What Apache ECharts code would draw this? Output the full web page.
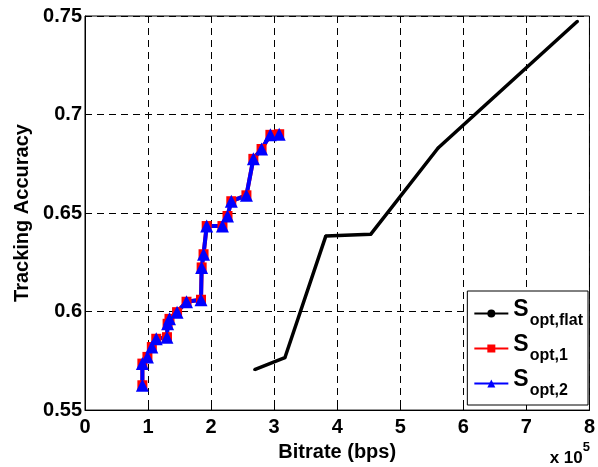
<!DOCTYPE html>
<html>
<head>
<meta charset="utf-8">
<script src="https://cdn.jsdelivr.net/npm/echarts@6/dist/echarts.min.js"></script>
<style>
    html, body { margin: 0; padding: 0; background: #fff; }
    #chart { width: 598px; height: 467px; }
</style>
</head>
<body>
<div id="chart"></div>
<script>
// bitrate in units of 1e5 bps
const flatX = [2.69, 3.17, 3.82, 4.53, 5.60, 7.81];
const flatY = [0.5706, 0.5766, 0.6384, 0.6392, 0.683, 0.7473];

const opt1X = [0.91, 0.91, 0.99, 1.06, 1.13, 1.30, 1.31, 1.34, 1.46, 1.61, 1.84, 1.85, 1.88, 1.93, 2.18, 2.26, 2.32, 2.56, 2.67, 2.80, 2.94, 3.08];
const opt1Y = [0.5626, 0.5736, 0.577, 0.582, 0.5862, 0.587, 0.5938, 0.5963, 0.5997, 0.605, 0.606, 0.6224, 0.6291, 0.6434, 0.6434, 0.6485, 0.656, 0.659, 0.6775, 0.6825, 0.6897, 0.690];

const opt2X = [0.91, 0.91, 0.99, 1.06, 1.13, 1.30, 1.31, 1.34, 1.46, 1.61, 1.84, 1.85, 1.88, 1.93, 2.18, 2.26, 2.32, 2.56, 2.67, 2.80, 2.94, 3.08];
const opt2Y = [0.5626, 0.5736, 0.577, 0.582, 0.5862, 0.587, 0.5938, 0.5963, 0.5997, 0.605, 0.606, 0.6224, 0.6291, 0.6434, 0.6434, 0.6485, 0.656, 0.659, 0.6775, 0.6825, 0.6897, 0.690];

const xTicks = [0, 1, 2, 3, 4, 5, 6, 7, 8];
const yTicks = [0.55, 0.6, 0.65, 0.7, 0.75];

const legendNames = ['S_opt,flat', 'S_opt,1', 'S_opt,2'];

function pairs(xs, ys) {
    return xs.map((x, i) => [x, ys[i]]);
}

const font = 'Liberation Sans, Arial, sans-serif';

let chart = echarts.init(document.getElementById('chart'));

let option = {
    animation: false,
    grid: {
        left: 85,
        right: 6,
        top: 16,
        bottom: 55,
        show: true,
        borderColor: '#000',
        borderWidth: 1
    },
    legend: {
        orient: 'vertical',
        right: 10,
        bottom: 62,
        backgroundColor: '#fff',
        borderColor: '#000',
        borderWidth: 1,
        padding: [7, 5, 6, 6],
        itemGap: 4,
        itemWidth: 34,
        itemHeight: 10,
        data: legendNames,
        formatter: function (name) {
            let sub = name.split('_')[1];
            return '{s|S}{sub|' + sub + '}';
        },
        textStyle: {
            fontFamily: font,
            rich: {
                s: { fontSize: 23, fontWeight: 'bold', color: '#000', fontFamily: font, lineHeight: 24, verticalAlign: 'top' },
                sub: { fontSize: 16, fontWeight: 'bold', color: '#000', fontFamily: font, padding: [15, 0, 0, 1] }
            }
        }
    },
    xAxis: {
        type: 'value',
        min: 0,
        max: 8,
        interval: 1,
        name: 'Bitrate (bps)',
        nameLocation: 'middle',
        nameGap: 30,
        nameTextStyle: { fontFamily: font, fontSize: 20, fontWeight: 'bold', color: '#000' },
        axisLine: { lineStyle: { color: '#000', width: 1 } },
        axisTick: { inside: true, length: 5, lineStyle: { color: '#000' } },
        axisLabel: {
            fontFamily: font, fontSize: 20, fontWeight: 'bold', color: '#000', margin: 7,
            formatter: v => xTicks.includes(v) ? String(v) : ''
        },
        splitLine: { show: true, lineStyle: { color: '#000', type: [7, 5], width: 1 } }
    },
    yAxis: {
        type: 'value',
        min: 0.55,
        max: 0.75,
        interval: 0.05,
        name: 'Tracking Accuracy',
        nameLocation: 'middle',
        nameGap: 52,
        nameTextStyle: { fontFamily: font, fontSize: 20, fontWeight: 'bold', color: '#000' },
        axisLine: { show: true, lineStyle: { color: '#000', width: 1 } },
        axisTick: { inside: true, length: 5, lineStyle: { color: '#000' } },
        axisLabel: {
            fontFamily: font, fontSize: 20, fontWeight: 'bold', color: '#000', margin: 3,
            formatter: function (v) {
                let t = yTicks.find(y => Math.abs(y - v) < 1e-6);
                return t === undefined ? '' : String(t);
            }
        },
        splitLine: { show: true, lineStyle: { color: '#000', type: [7, 5], width: 1 } }
    },
    graphic: [{
        type: 'text',
        right: 8,
        bottom: 0,
        style: {
            text: '{a|x 10}{b|5}',
            rich: {
                a: { fontFamily: font, fontSize: 17, fontWeight: 'bold', fill: '#000', padding: [9, 0, 0, 0] },
                b: { fontFamily: font, fontSize: 13, fontWeight: 'bold', fill: '#000', verticalAlign: 'top' }
            }
        }
    }],
    series: [
        {
            name: legendNames[0],
            type: 'line',
            data: pairs(flatX, flatY),
            symbol: 'circle',
            symbolSize: 3,
            showSymbol: true,
            lineStyle: { color: '#000', width: 3.5 },
            itemStyle: { color: '#000' }
        },
        {
            name: legendNames[1],
            type: 'line',
            data: pairs(opt1X, opt1Y),
            symbol: 'rect',
            symbolSize: 10,
            lineStyle: { color: '#ff0000', width: 4 },
            itemStyle: { color: '#ff0000' }
        },
        {
            name: legendNames[2],
            type: 'line',
            data: pairs(opt2X, opt2Y),
            symbol: 'triangle',
            symbolSize: 13,
            lineStyle: { color: '#0000ff', width: 4 },
            itemStyle: { color: '#0000ff' }
        }
    ]
};

chart.setOption(option);
</script>
</body>
</html>
